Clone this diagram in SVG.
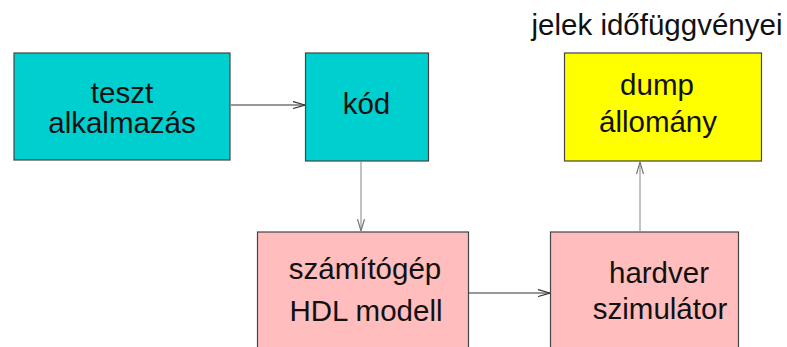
<svg xmlns="http://www.w3.org/2000/svg" width="787" height="347" viewBox="0 0 787 347">
<style>
text{font-family:"Liberation Sans",Arial,sans-serif;font-size:29.5px;fill:#111;text-anchor:middle}
.box{stroke:#444;stroke-width:1.2}
.cyan{fill:#00CFCF}
.yellow{fill:#FFFF00}
.pink{fill:#FFBDBD}
.dark{stroke:#333;stroke-width:1.2;fill:none}
.light{stroke:#999;stroke-width:1.2;fill:none}
</style>
<defs>
<marker id="ahd" viewBox="0 0 12 8" refX="12" refY="4" markerWidth="12" markerHeight="8" markerUnits="userSpaceOnUse" orient="auto">
<path d="M0,0.5 L12,4 L0,7.5" fill="none" stroke="#333" stroke-width="1.2"/>
</marker>
<marker id="ahl" viewBox="0 0 12 8" refX="12" refY="4" markerWidth="12" markerHeight="8" markerUnits="userSpaceOnUse" orient="auto">
<path d="M0,0.5 L12,4 L0,7.5" fill="none" stroke="#777" stroke-width="1.2"/>
</marker>
</defs>
<text x="657" y="35">jelek időfüggvényei</text>
<g id="connectors">
<line class="dark" x1="231" y1="105" x2="305" y2="105" marker-end="url(#ahd)"/>
<line class="light" x1="361" y1="162" x2="361" y2="231" marker-end="url(#ahl)"/>
<line class="dark" x1="469" y1="293" x2="550" y2="293" marker-end="url(#ahd)"/>
<line class="light" x1="640" y1="231" x2="640" y2="162" marker-end="url(#ahl)"/>
</g>
<g id="teszt">
<rect class="box cyan" x="14" y="53" width="216" height="107"/>
<text x="122" y="103">teszt</text>
<text x="122" y="133">alkalmazás</text>
</g>
<g id="kod">
<rect class="box cyan" x="305.5" y="53" width="123" height="108"/>
<text x="366.5" y="114">kód</text>
</g>
<g id="dump">
<rect class="box yellow" x="564.5" y="53" width="197" height="108"/>
<text x="657" y="95">dump</text>
<text x="658" y="131.5">állomány</text>
</g>
<g id="hdl">
<rect class="box pink" x="257.5" y="232" width="211" height="130"/>
<text x="365" y="279">számítógép</text>
<text x="366" y="320.5">HDL modell</text>
</g>
<g id="sim">
<rect class="box pink" x="550.5" y="232" width="188" height="130"/>
<text x="659" y="283">hardver</text>
<text x="660" y="319">szimulátor</text>
</g>
</svg>
